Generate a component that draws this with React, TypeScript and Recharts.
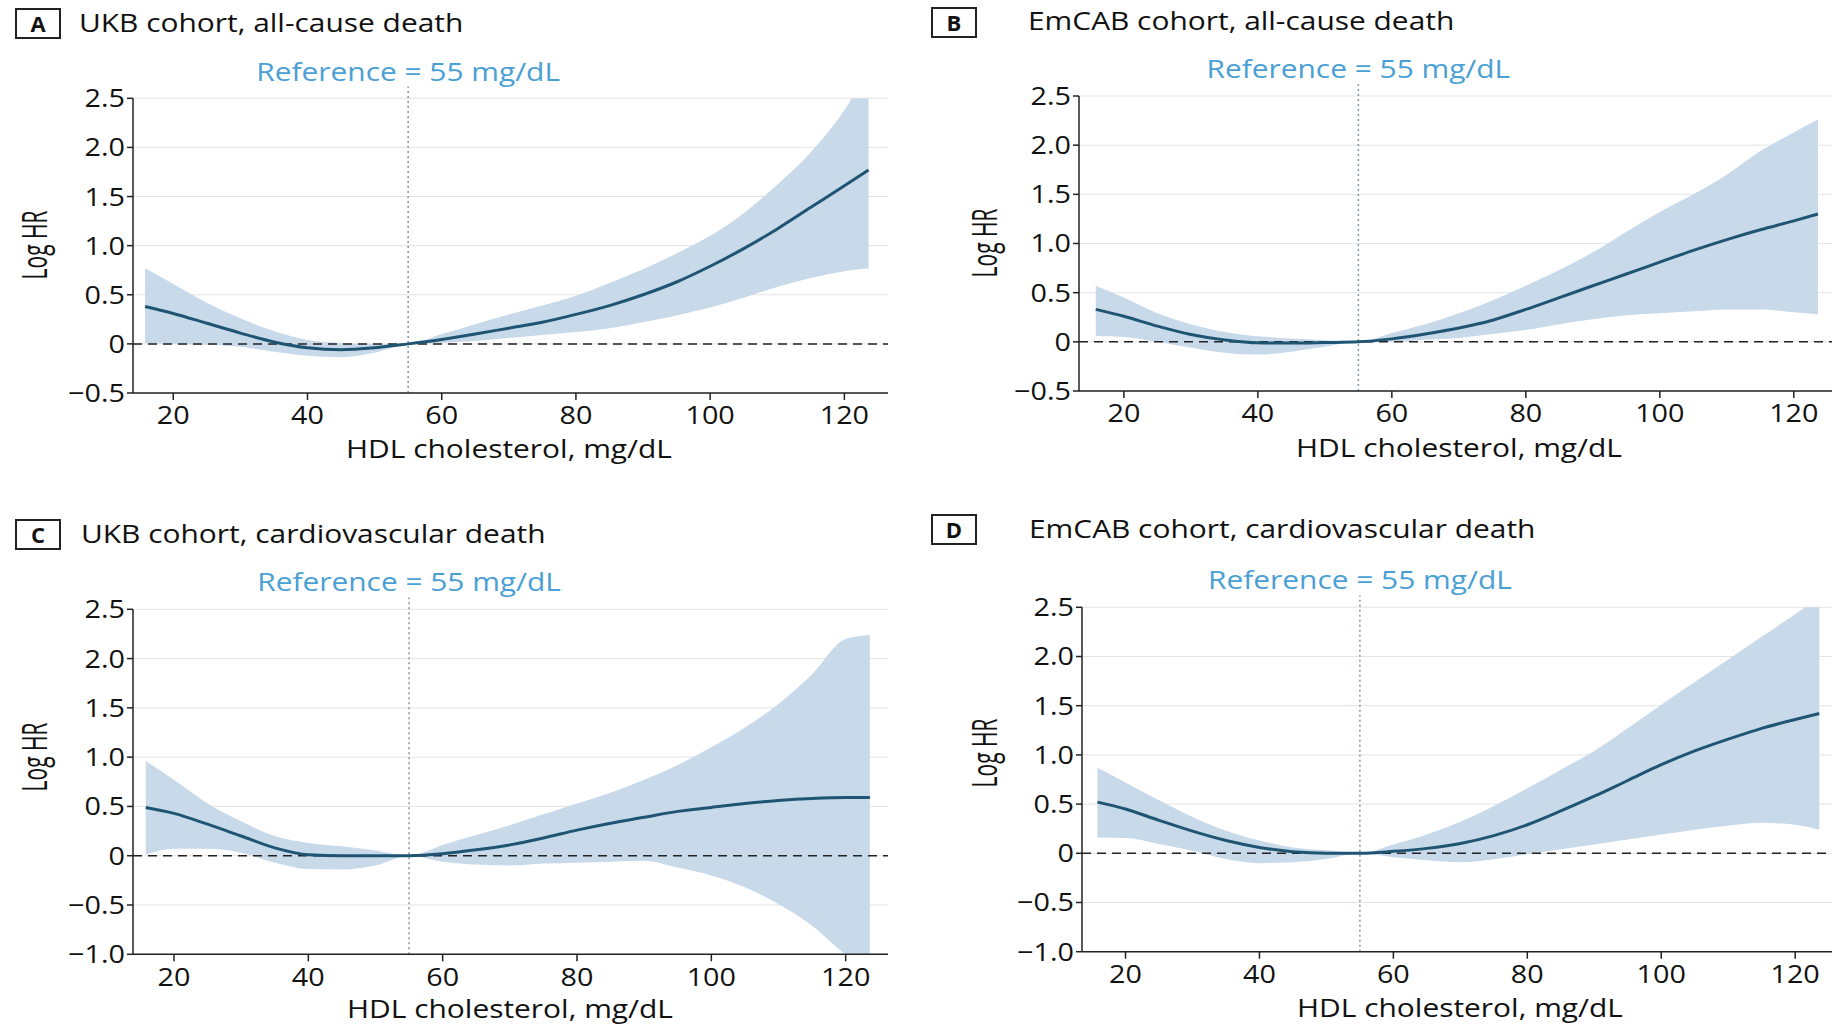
import React from 'react'
import { ComposedChart, Area, Line, XAxis, YAxis, CartesianGrid, ReferenceLine } from 'recharts'

// HDL cholesterol grid (mg/dL) shared by all four panels
const hdl = [15.8, 20, 25, 30, 35, 40, 45, 50, 55, 60, 65, 70, 75, 80, 85, 90, 95, 100, 105, 110, 115, 120, 123.6]

// A: UKB cohort, all-cause death
const ukbAllFit = [0.38, 0.31, 0.21, 0.11, 0.02, -0.04, -0.06, -0.04, 0, 0.045, 0.1, 0.16, 0.22, 0.3, 0.39, 0.5, 0.63, 0.79, 0.97, 1.17, 1.39, 1.61, 1.77]
const ukbAllLo = [0.01, 0.0, -0.01, -0.03, -0.08, -0.12, -0.135, -0.09, 0, 0.01, 0.03, 0.06, 0.09, 0.12, 0.16, 0.22, 0.29, 0.37, 0.47, 0.58, 0.67, 0.74, 0.77]
const ukbAllHi = [0.77, 0.61, 0.42, 0.26, 0.13, 0.04, 0.01, 0.0, 0, 0.1, 0.2, 0.3, 0.39, 0.49, 0.62, 0.76, 0.92, 1.1, 1.33, 1.62, 1.95, 2.38, 2.8]

// B: EmCAB cohort, all-cause death
const emcabAllFit = [0.33, 0.26, 0.16, 0.075, 0.02, -0.01, -0.012, -0.007, 0, 0.03, 0.08, 0.14, 0.22, 0.33, 0.45, 0.57, 0.69, 0.81, 0.93, 1.04, 1.14, 1.23, 1.3]
const emcabAllLo = [0.06, 0.05, 0.0, -0.06, -0.11, -0.13, -0.1, -0.05, 0, 0.0, 0.02, 0.04, 0.08, 0.12, 0.18, 0.23, 0.27, 0.29, 0.31, 0.33, 0.33, 0.3, 0.28]
const emcabAllHi = [0.57, 0.45, 0.29, 0.18, 0.1, 0.057, 0.034, 0.017, 0, 0.09, 0.18, 0.29, 0.42, 0.57, 0.73, 0.91, 1.12, 1.32, 1.5, 1.7, 1.94, 2.13, 2.26]

// C: UKB cohort, cardiovascular death
const ukbCvFit = [0.49, 0.43, 0.32, 0.2, 0.08, 0.01, 0.0, 0.0, 0, 0.02, 0.06, 0.11, 0.18, 0.26, 0.33, 0.39, 0.45, 0.49, 0.53, 0.56, 0.58, 0.59, 0.59]
const ukbCvLo = [0.01, 0.07, 0.07, 0.03, -0.07, -0.135, -0.14, -0.1, 0, -0.06, -0.09, -0.1, -0.08, -0.07, -0.06, -0.05, -0.12, -0.2, -0.32, -0.49, -0.71, -1.0, -1.15]
const ukbCvHi = [0.96, 0.77, 0.53, 0.35, 0.2, 0.13, 0.095, 0.054, 0, 0.11, 0.21, 0.31, 0.42, 0.53, 0.64, 0.77, 0.92, 1.1, 1.3, 1.54, 1.84, 2.2, 2.24]

// D: EmCAB cohort, cardiovascular death
const emcabCvFit = [0.52, 0.45, 0.335, 0.225, 0.13, 0.06, 0.015, 0.0, 0, 0.02, 0.05, 0.1, 0.18, 0.29, 0.43, 0.58, 0.74, 0.9, 1.04, 1.16, 1.27, 1.36, 1.42]
const emcabCvLo = [0.16, 0.155, 0.095, 0.027, -0.058, -0.1, -0.09, -0.058, 0, -0.04, -0.07, -0.09, -0.06, -0.01, 0.04, 0.09, 0.14, 0.19, 0.24, 0.28, 0.31, 0.29, 0.24]
const emcabCvHi = [0.87, 0.72, 0.54, 0.37, 0.23, 0.13, 0.06, 0.03, 0, 0.09, 0.19, 0.32, 0.48, 0.66, 0.85, 1.04, 1.27, 1.51, 1.74, 1.97, 2.2, 2.43, 2.6]

const xTicks = [20, 40, 60, 80, 100, 120]
const yTicksAll = [-0.5, 0, 0.5, 1.0, 1.5, 2.0, 2.5]
const yTicksCv = [-1.0, -0.5, 0, 0.5, 1.0, 1.5, 2.0, 2.5]

const FONT = "'Open Sans', 'Noto Sans', sans-serif"
const BAND = '#c8d9ea'
const FIT = '#1f5573'
const REF_BLUE = '#4aa0d5'
const K = 1.15 // the scan is a little wider than tall

function rows(fit: number[], lo: number[], hi: number[]) {
  return hdl.map((x, i) => ({ hdl: x, fit: fit[i], band: [lo[i], hi[i]] }))
}

const fmtY = (v: number) => (v === 0 ? '0' : v.toFixed(1).replace('-', '\u2212'))

// stretch svg text horizontally around its anchor x
const stretch = (x: number) => `matrix(${K},0,0,1,${x * (1 - K)},0)`

function XTick({ x, y, payload }: any) {
  return (
    <text x={x} y={y} dy="0.78em" textAnchor="middle" fill="#111" fontSize={25} fontFamily={FONT} transform={stretch(x)}>
      {payload.value}
    </text>
  )
}

function YTick({ x, y, payload }: any) {
  return (
    <text x={x} y={y} dy="0.36em" textAnchor="end" fill="#111" fontSize={25} fontFamily={FONT} transform={stretch(x)}>
      {fmtY(payload.value)}
    </text>
  )
}

function RefLabel({ viewBox }: any) {
  const x = viewBox.x
  const y = viewBox.y - 6
  return (
    <text x={x} y={y} textAnchor="middle" fill={REF_BLUE} fontSize={26} fontFamily={FONT} transform={stretch(x)}>
      Reference = 55 mg/dL
    </text>
  )
}

interface PanelProps {
  letter: string
  title: string
  left: number
  top: number
  width: number
  height: number
  margin: { top: number; right: number; bottom: number; left: number }
  xDomain: [number, number]
  yDomain: [number, number]
  yTicks: number[]
  data: { hdl: number; fit: number; band: number[] }[]
  boxTop: number
  titleCy: number
  textLeft: number
  logHr: [number, number]
  xLabel: [number, number]
}

function Panel(p: PanelProps) {
  return (
    <>
      <div
        style={{
          position: 'absolute', left: p.left + 15, top: p.boxTop, width: 46, height: 31,
          border: '2px solid #222', boxSizing: 'border-box', fontFamily: FONT, fontWeight: 700,
          fontSize: 22, lineHeight: '27px', textAlign: 'center', color: '#111',
        }}
      >
        {p.letter}
      </div>
      <div
        style={{
          position: 'absolute', left: p.textLeft, top: p.titleCy - 18, height: 36, lineHeight: '36px',
          fontFamily: FONT, fontSize: 26, fontWeight: 500, color: '#111', whiteSpace: 'nowrap',
          transform: `scaleX(${K})`, transformOrigin: 'left center',
        }}
      >
        {p.title}
      </div>
      <div
        style={{
          position: 'absolute', left: p.logHr[0], top: p.logHr[1], fontFamily: FONT, fontSize: 25,
          fontWeight: 500, color: '#111', whiteSpace: 'nowrap', lineHeight: '30px',
          transform: 'translate(-50%, -50%) scale(1.42, 0.84) rotate(-90deg)',
        }}
      >
        Log HR
      </div>
      <div
        style={{
          position: 'absolute', left: p.xLabel[0], top: p.xLabel[1], fontFamily: FONT, fontSize: 26,
          fontWeight: 500, color: '#111', whiteSpace: 'nowrap', lineHeight: '34px',
          transform: `translate(-50%, -50%) scaleX(${K})`,
        }}
      >
        HDL cholesterol, mg/dL
      </div>
      <div style={{ position: 'absolute', left: p.left, top: p.top }}>
        <ComposedChart width={p.width} height={p.height} data={p.data} margin={p.margin}>
          <CartesianGrid vertical={false} stroke="#e4e4e4" strokeWidth={1} />
          <XAxis
            dataKey="hdl"
            type="number"
            domain={p.xDomain}
            ticks={xTicks}
            allowDataOverflow
            height={45}
            tickSize={7}
            tickMargin={5}
            axisLine={{ stroke: '#222', strokeWidth: 1.5 }}
            tickLine={{ stroke: '#222', strokeWidth: 1.5 }}
            tick={<XTick />}
          />
          <YAxis
            type="number"
            domain={p.yDomain}
            ticks={p.yTicks}
            allowDataOverflow
            width={60}
            tickSize={6}
            tickMargin={2}
            axisLine={{ stroke: '#222', strokeWidth: 1.5 }}
            tickLine={{ stroke: '#222', strokeWidth: 1.5 }}
            tick={<YTick />}
          />
          <Area
            dataKey="band"
            type="monotone"
            fill={BAND}
            fillOpacity={1}
            stroke="none"
            isAnimationActive={false}
          />
          <ReferenceLine y={0} stroke="#222" strokeWidth={1.5} strokeDasharray="9 6" />
          <ReferenceLine
            segment={[{ x: 55, y: p.yDomain[0] }, { x: 55, y: 2.62 }]}
            ifOverflow="visible"
            stroke="#8296aa"
            strokeWidth={1.5}
            strokeDasharray="2 3"
            label={<RefLabel />}
          />
          <Line
            dataKey="fit"
            type="monotone"
            stroke={FIT}
            strokeWidth={3}
            dot={false}
            activeDot={false}
            isAnimationActive={false}
          />
        </ComposedChart>
      </div>
    </>
  )
}

export default function App() {
  return (
    <div style={{ position: 'absolute', left: 0, top: 0, width: 1832, height: 1025, background: '#fff', overflow: 'hidden' }}>
      <Panel
        letter="A" title="UKB cohort, all-cause death"
        left={0} top={0} width={916} height={480}
        margin={{ top: 98.3, right: 28, bottom: 42, left: 73 }}
        xDomain={[14, 126.5]} yDomain={[-0.5, 2.5]} yTicks={yTicksAll}
        data={rows(ukbAllFit, ukbAllLo, ukbAllHi)}
        boxTop={8} titleCy={22} textLeft={79} logHr={[33, 245]} xLabel={[509, 448]}
      />
      <Panel
        letter="B" title="EmCAB cohort, all-cause death"
        left={916} top={0} width={916} height={480}
        margin={{ top: 96, right: 0, bottom: 44, left: 103 }}
        xDomain={[13.3, 125.7]} yDomain={[-0.5, 2.5]} yTicks={yTicksAll}
        data={rows(emcabAllFit, emcabAllLo, emcabAllHi)}
        boxTop={7} titleCy={20} textLeft={1028} logHr={[983, 243]} xLabel={[1459, 447]}
      />
      <Panel
        letter="C" title="UKB cohort, cardiovascular death"
        left={0} top={500} width={916} height={525}
        margin={{ top: 109.3, right: 28, bottom: 25.7, left: 73 }}
        xDomain={[13.9, 126.3]} yDomain={[-1.0, 2.5]} yTicks={yTicksCv}
        data={rows(ukbCvFit, ukbCvLo, ukbCvHi)}
        boxTop={519} titleCy={533} textLeft={81} logHr={[33, 757]} xLabel={[510, 1008]}
      />
      <Panel
        letter="D" title="EmCAB cohort, cardiovascular death"
        left={916} top={500} width={916} height={525}
        margin={{ top: 107.3, right: 0, bottom: 28.3, left: 106 }}
        xDomain={[13.5, 125.5]} yDomain={[-1.0, 2.5]} yTicks={yTicksCv}
        data={rows(emcabCvFit, emcabCvLo, emcabCvHi)}
        boxTop={514} titleCy={528} textLeft={1029} logHr={[983, 753]} xLabel={[1460, 1007]}
      />
    </div>
  )
}
